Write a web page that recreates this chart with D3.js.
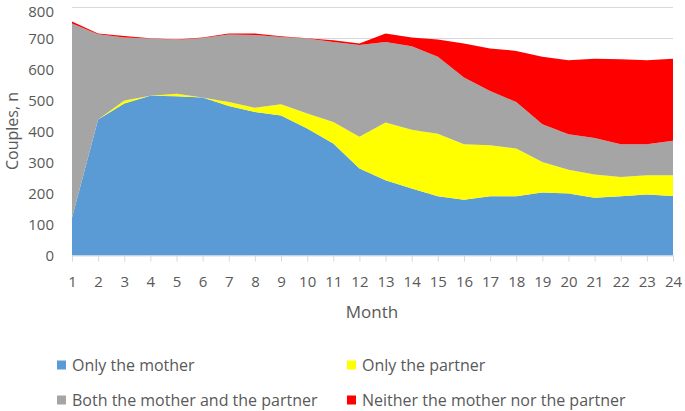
<!DOCTYPE html>
<html><head><meta charset="utf-8">
<script src="https://cdn.jsdelivr.net/npm/d3@7"></script>
<style>body{margin:0;background:#fff}svg{display:block}text{font-family:"Open Sans","Noto Sans",sans-serif;fill:#595959}</style>
</head><body><svg id="c" width="685" height="411"></svg>
<script>
const months = d3.range(1, 25);
const seriesNames = ["Only the mother", "Only the partner", "Both the mother and the partner", "Neither the mother nor the partner"];
const onlyMother = [122,439,490,515,514,510,482,463,452,410,361,281,243,216,191,180,191,191,203,200,186,191,197,192];
const onlyPartner = [0,0,10,0,8,0,13,14,36,48,70,102,186,190,202,179,165,154,99,77,75,62,62,67];
const both = [626,275,203,185,173,192,218,234,217,242,258,296,260,269,248,215,175,150,121,114,118,106,100,111];
const neither = [7,2,5,1,2,1,3,5,2,1,5,5,27,28,56,110,137,165,218,239,256,274,271,265];
const yTicks = [0,100,200,300,400,500,600,700,800];
const colors = ["#5B9BD5", "#FFFF00", "#A5A5A5", "#FF0000"];

const keys = ["m","p","b","n"];
const rows = months.map((mo,i)=>({month:mo, m:onlyMother[i], p:onlyPartner[i], b:both[i], n:neither[i]}));
const stack = d3.stack().keys(keys)(rows);

const svg = d3.select("#c");
const x = d3.scaleLinear().domain([1,24]).range([72,673]);
const y = d3.scaleLinear().domain([0,800]).range([255.5,7.5]);

// gridlines
svg.append("g").selectAll("line").data(yTicks.slice(1)).join("line")
  .attr("x1",72).attr("x2",673).attr("y1",d=>y(d)).attr("y2",d=>y(d))
  .attr("stroke","#D9D9D9").attr("stroke-width",1);

const area = d3.area().x(d=>x(d.data.month)).y0(d=>y(d[0])).y1(d=>y(d[1]));
svg.append("g").selectAll("path").data(stack).join("path")
  .attr("d",area).attr("fill",(d,i)=>colors[i]);

// x axis
const xAxis = d3.axisBottom(x).tickValues(months).tickFormat(d3.format("d")).tickSizeOuter(0).tickSize(6).tickPadding(15);
const gx = svg.append("g").attr("transform",`translate(0,${y(0)})`).call(xAxis);
gx.select(".domain").attr("stroke","#D9D9D9");
gx.selectAll(".tick line").attr("stroke","#D9D9D9");
gx.selectAll("text").attr("font-size",15).style("fill","#595959");

// y axis
const yAxis = d3.axisLeft(y).tickValues(yTicks).tickSize(0).tickPadding(18);
const gy = svg.append("g").attr("transform",`translate(72,0)`).call(yAxis);
gy.select(".domain").remove();
gy.selectAll("text").attr("font-size",15).attr("dy","0.34em").style("fill","#595959");
gy.selectAll(".tick").filter(d=>d===800).select("text").attr("dy","0.6em");

svg.append("text").attr("transform","translate(12,131) rotate(-90)").attr("text-anchor","middle").attr("dy","0.35em")
  .attr("font-size",16).text("Couples, n");
svg.append("text").attr("x",372).attr("y",312).attr("dy","0.35em").attr("text-anchor","middle").attr("font-size",17).text("Month");

// legend
const legPos = [[57,365],[347,365],[57,400],[347,400]];
const lg = svg.append("g").selectAll("g").data(seriesNames).join("g")
  .attr("transform",(d,i)=>`translate(${legPos[i][0]},${legPos[i][1]})`);
lg.append("rect").attr("x",0).attr("y",-4.5).attr("width",9).attr("height",9).attr("fill",(d,i)=>colors[i]);
lg.append("text").attr("x",15).attr("y",0).attr("dy","0.35em").attr("font-size",16).text(d=>d);
</script></body></html>
